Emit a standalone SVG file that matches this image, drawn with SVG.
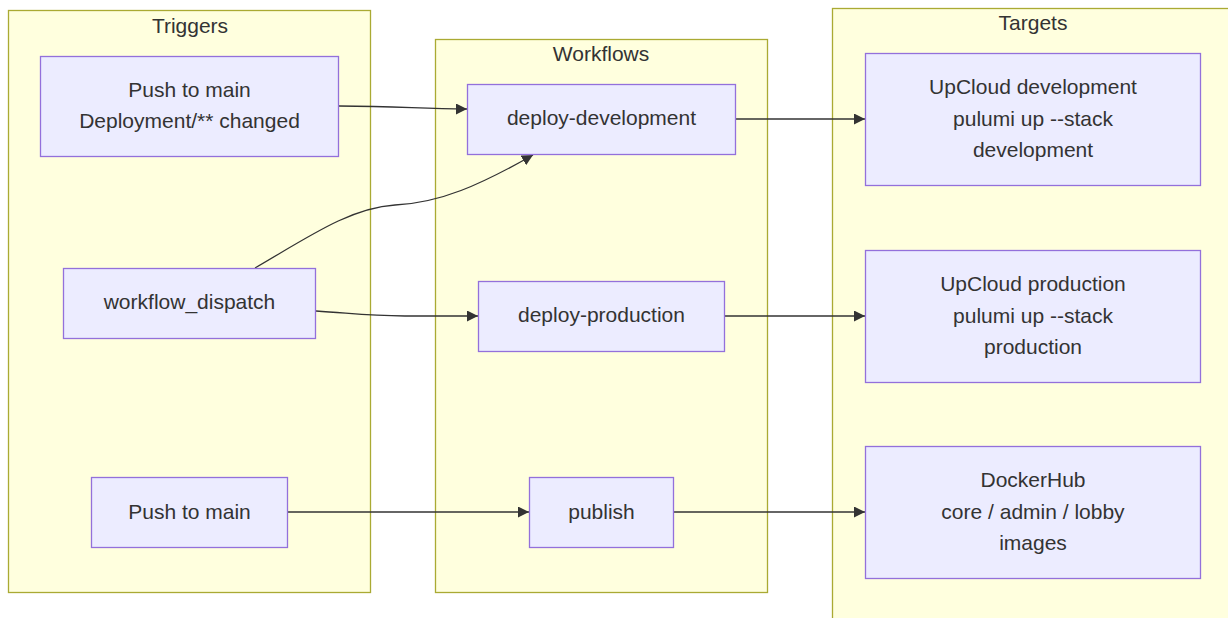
<svg xmlns="http://www.w3.org/2000/svg" width="1228" height="618" viewBox="0 0 1228 618">
<style>
.cluster{fill:#ffffde;stroke:#aaaa33;stroke-width:1.3}
.node{fill:#ececff;stroke:#9370db;stroke-width:1.3}
.t{font-family:"Liberation Sans",Arial,sans-serif;font-size:21px;fill:#333;text-anchor:middle}
.edge{fill:none;stroke:#333;stroke-width:1.3}
</style>
<defs>
<marker id="arrow" viewBox="0 0 10 10" refX="10" refY="5" markerUnits="userSpaceOnUse" markerWidth="11" markerHeight="11" orient="auto">
<path d="M0,0 L10,5 L0,10 z" fill="#333"/>
</marker>
</defs>
<rect width="1228" height="618" fill="#fff"/>
<g id="cluster-triggers">
<rect class="cluster" x="8.5" y="10.5" width="362" height="582"/>
<text class="t" x="190" y="33">Triggers</text>
</g>
<g id="cluster-workflows">
<rect class="cluster" x="435.5" y="39.5" width="332" height="553"/>
<text class="t" x="601" y="61">Workflows</text>
</g>
<g id="cluster-targets">
<rect class="cluster" x="832.5" y="8.5" width="420" height="640"/>
<text class="t" x="1033" y="30">Targets</text>
</g>
<g id="edges">
<path class="edge" marker-end="url(#arrow)" d="M339,106 C400,106 420,109 467,109"/>
<path class="edge" marker-end="url(#arrow)" d="M255,268 C310,236 350,208 395,205 C440,203 480,185 533,155"/>
<path class="edge" marker-end="url(#arrow)" d="M316,311 C350,313 365,316 405,316 L478,316"/>
<path class="edge" marker-end="url(#arrow)" d="M736,119 L865,119"/>
<path class="edge" marker-end="url(#arrow)" d="M725,316 L865,316"/>
<path class="edge" marker-end="url(#arrow)" d="M288,512 L529,512"/>
<path class="edge" marker-end="url(#arrow)" d="M673,512 L865,512"/>
</g>
<g id="node-push-deploy">
<rect class="node" x="40.5" y="56.5" width="298" height="100"/>
<text class="t" x="189.5" y="97">Push to main</text>
<text class="t" x="189.5" y="128">Deployment/** changed</text>
</g>
<g id="node-dispatch">
<rect class="node" x="63.5" y="268.5" width="252" height="70"/>
<text class="t" x="189.5" y="309">workflow_dispatch</text>
</g>
<g id="node-push-main">
<rect class="node" x="91.5" y="477.5" width="196" height="70"/>
<text class="t" x="189.5" y="519">Push to main</text>
</g>
<g id="node-deploy-development">
<rect class="node" x="467.5" y="84.5" width="268" height="70"/>
<text class="t" x="601.5" y="125">deploy-development</text>
</g>
<g id="node-deploy-production">
<rect class="node" x="478.5" y="281.5" width="246" height="70"/>
<text class="t" x="601.5" y="322">deploy-production</text>
</g>
<g id="node-publish">
<rect class="node" x="529.5" y="477.5" width="144" height="70"/>
<text class="t" x="601.5" y="519">publish</text>
</g>
<g id="node-upcloud-dev">
<rect class="node" x="865.5" y="53.5" width="335" height="132"/>
<text class="t" x="1033" y="94">UpCloud development</text>
<text class="t" x="1033" y="126">pulumi up --stack</text>
<text class="t" x="1033" y="157">development</text>
</g>
<g id="node-upcloud-prod">
<rect class="node" x="865.5" y="250.5" width="335" height="132"/>
<text class="t" x="1033" y="291">UpCloud production</text>
<text class="t" x="1033" y="323">pulumi up --stack</text>
<text class="t" x="1033" y="354">production</text>
</g>
<g id="node-dockerhub">
<rect class="node" x="865.5" y="446.5" width="335" height="132"/>
<text class="t" x="1033" y="487">DockerHub</text>
<text class="t" x="1033" y="519">core / admin / lobby</text>
<text class="t" x="1033" y="550">images</text>
</g>
</svg>
